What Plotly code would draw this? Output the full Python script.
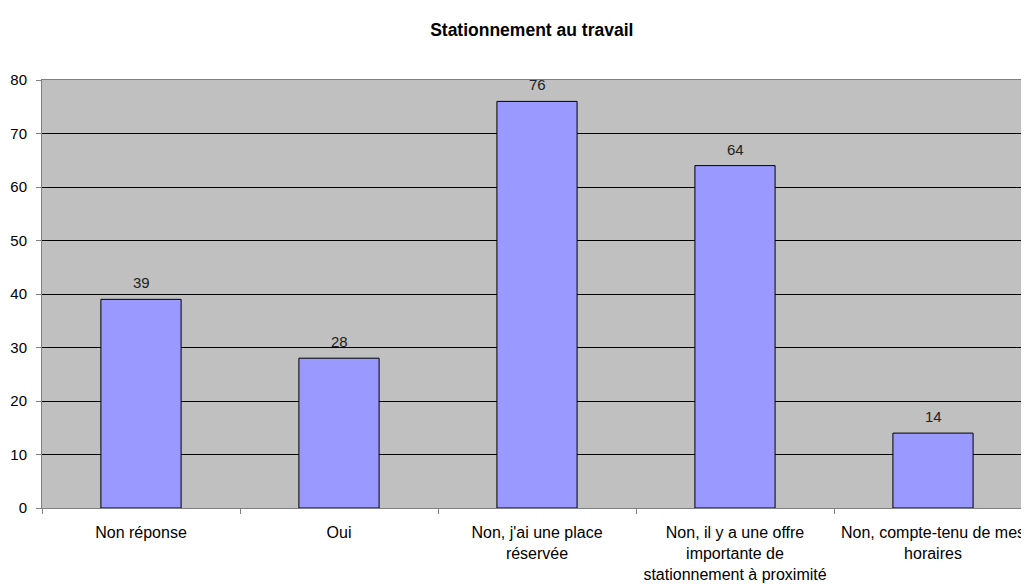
import plotly.graph_objects as go

# Data
categories = [
    "Non réponse",
    "Oui",
    "Non, j'ai une place<br>réservée",
    "Non, il y a une offre<br>importante de<br>stationnement à proximité",
    "Non, compte-tenu de mes<br>horaires",
]
values = [39, 28, 76, 64, 14]

fig = go.Figure(
    go.Bar(
        x=categories,
        y=values,
        width=0.405,
        marker=dict(color="#9999FF", line=dict(color="black", width=1)),
    )
)

# value labels above each bar
for cat, val in zip(categories, values):
    fig.add_annotation(
        x=cat, y=val, text=str(val), showarrow=False,
        yanchor="bottom", yshift=6,
        font=dict(size=15, color="#222222"),
    )

fig.update_layout(
    width=1029,
    height=584,
    margin=dict(l=34, r=5, t=72, b=84),
    paper_bgcolor="white",
    plot_bgcolor="#C0C0C0",
    font=dict(family="Liberation Sans, Arial, sans-serif", size=15, color="black"),
    title=dict(
        text="<b>Stationnement au travail</b>",
        x=0.509,
        xanchor="center",
        y=0.962,
        yanchor="middle",
        font=dict(size=17.5, color="black"),
    ),
    showlegend=False,
)

fig.update_xaxes(
    automargin=False,
    showgrid=False,
    showline=True,
    linecolor="#808080",
    linewidth=1,
    mirror=True,
    ticks="outside",
    tickson="boundaries",
    ticklen=5,
    tickcolor="#808080",
    tickangle=0,
    ticklabelstandoff=10,
    tickfont=dict(size=16),
)
fig.update_yaxes(
    automargin=False,
    range=[0, 80],
    dtick=10,
    showgrid=True,
    gridcolor="black",
    gridwidth=1,
    zeroline=False,
    showline=True,
    linecolor="#808080",
    linewidth=1,
    ticks="outside",
    ticklen=5,
    tickcolor="#808080",
    ticklabelstandoff=6,
)

fig.write_html("out.html")
